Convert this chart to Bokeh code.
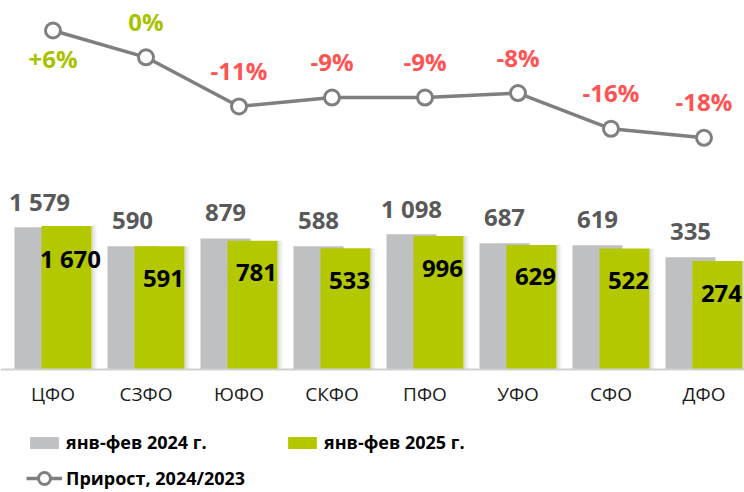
from bokeh.plotting import figure
from bokeh.models import Range1d, Span, Legend, LegendItem, ColumnDataSource, LinearScale
from bokeh.core.properties import value
from bokeh.embed import file_html
from bokeh.resources import INLINE

# ---- data ----
regions = ["ЦФО", "СЗФО", "ЮФО", "СКФО", "ПФО", "УФО", "СФО", "ДФО"]
jan_feb_2024 = [1579, 590, 879, 588, 1098, 687, 619, 335]
jan_feb_2025 = [1670, 591, 781, 533, 996, 629, 522, 274]
growth_pct = [6, 0, -11, -9, -9, -8, -16, -18]

label_2024 = "янв-фев 2024 г."
label_2025 = "янв-фев 2025 г."
label_growth = "Прирост, 2024/2023"

# ---- styles ----
GREY = "#bfc0c2"
GREEN = "#b4c800"
LINE_GREY = "#7f7f7f"
POS_COL = "#a9c200"
NEG_COL = "#ff5252"
FONT = value("Open Sans")

W, H = 744, 492
PX = 1 / 93.0          # one pixel in x data units
idx = list(range(len(regions)))
off = 0.145
bw = 0.538

def fmt(v):
    return f"{v:,}".replace(",", " ")

def pct(g):
    return f"+{g}%" if g > 0 else f"{g}%"

src = ColumnDataSource(dict(
    x24=[i - off for i in idx], x25=[i + off for i in idx],
    v24=jan_feb_2024, v25=jan_feb_2025,
    lab24=[fmt(v) for v in jan_feb_2024], lab25=[fmt(v) for v in jan_feb_2025],
))
gmax = max(growth_pct)
gsrc = ColumnDataSource(dict(
    x=idx, g=growth_pct,
    lab=[pct(g) for g in growth_pct],
    col=[POS_COL if g >= 0 else NEG_COL for g in growth_pct],
    yo=[28 if g == gmax else -36 for g in growth_pct],
))

p = figure(width=W, height=H, output_backend="svg", toolbar_location=None,
           x_range=Range1d(-0.5645, 7.4355),
           y_range=Range1d(10 ** -2.764, 10 ** 8.292),
           y_axis_type="log", x_axis_location=None, y_axis_location=None,
           min_border=0, min_border_left=0, min_border_right=0,
           min_border_top=0, min_border_bottom=0,
           outline_line_color=None, background_fill_color="white")
p.grid.visible = False
p.extra_y_ranges = {"growth": Range1d(-97.36, 12.71)}
p.extra_y_scales = {"growth": LinearScale()}

r24 = p.vbar(x="x24", top="v24", bottom=1, width=bw, source=src,
             fill_color=GREY, line_color=None)

# soft shadow to the right of the green bars
for k, a in enumerate([0.30, 0.18, 0.10, 0.04]):
    p.vbar(x=[i + off + bw / 2 + (k + 0.5) * 1.5 * PX for i in idx],
           top=jan_feb_2025, bottom=1, width=1.5 * PX,
           fill_color="#808080", fill_alpha=a, line_color=None)

r25 = p.vbar(x="x25", top="v25", bottom=1, width=bw, source=src,
             fill_color=GREEN, line_color=None)

p.add_layout(Span(location=1, dimension="width", line_color="#d0d0d0", line_width=2))

p.text(x="x24", y="v24", text="lab24", source=src, text_font=FONT,
       text_font_style="bold", text_font_size="24px", text_color="#595959",
       text_align="center", text_baseline="middle", y_offset=-26)
p.text(x="x25", y="v25", text="lab25", source=src, text_font=FONT,
       text_font_style="bold", text_font_size="24px", text_color="black",
       text_align="center", text_baseline="middle", x_offset=4, y_offset=32)

p.text(x=idx, y=[1] * len(idx), text=regions, text_font=FONT,
       text_font_size="19px", text_color="#1a1a1a",
       text_align="center", text_baseline="middle", y_offset=24)

rl = p.line("x", "g", source=gsrc, y_range_name="growth",
            line_color=LINE_GREY, line_width=3.5)
rs = p.scatter("x", "g", source=gsrc, y_range_name="growth", marker="circle",
               size=15, fill_color="white", line_color=LINE_GREY, line_width=3)
p.text("x", "g", text="lab", source=gsrc, y_range_name="growth",
       text_color="col", text_font=FONT, text_font_style="bold",
       text_font_size="24px", text_align="center", text_baseline="middle",
       y_offset="yo")

common = dict(glyph_width=36, label_standoff=4, padding=0, margin=0,
              border_line_color=None, background_fill_alpha=0,
              label_text_font="Open Sans", label_text_font_style="bold",
              label_text_font_size="18px", label_text_color="black")

legend_bars = Legend(items=[LegendItem(label=label_2024, renderers=[r24]),
                            LegendItem(label=label_2025, renderers=[r25])],
                     location=(26, 38), orientation="horizontal",
                     glyph_height=15, label_width=205, label_height=20,
                     spacing=13, **common)
legend_line = Legend(items=[LegendItem(label=label_growth, renderers=[rl, rs])],
                     location=(26, -1), orientation="horizontal",
                     glyph_height=30, label_height=20, spacing=0, **common)
p.add_layout(legend_bars)
p.add_layout(legend_line)

open("out.html", "w").write(file_html(p, INLINE))
